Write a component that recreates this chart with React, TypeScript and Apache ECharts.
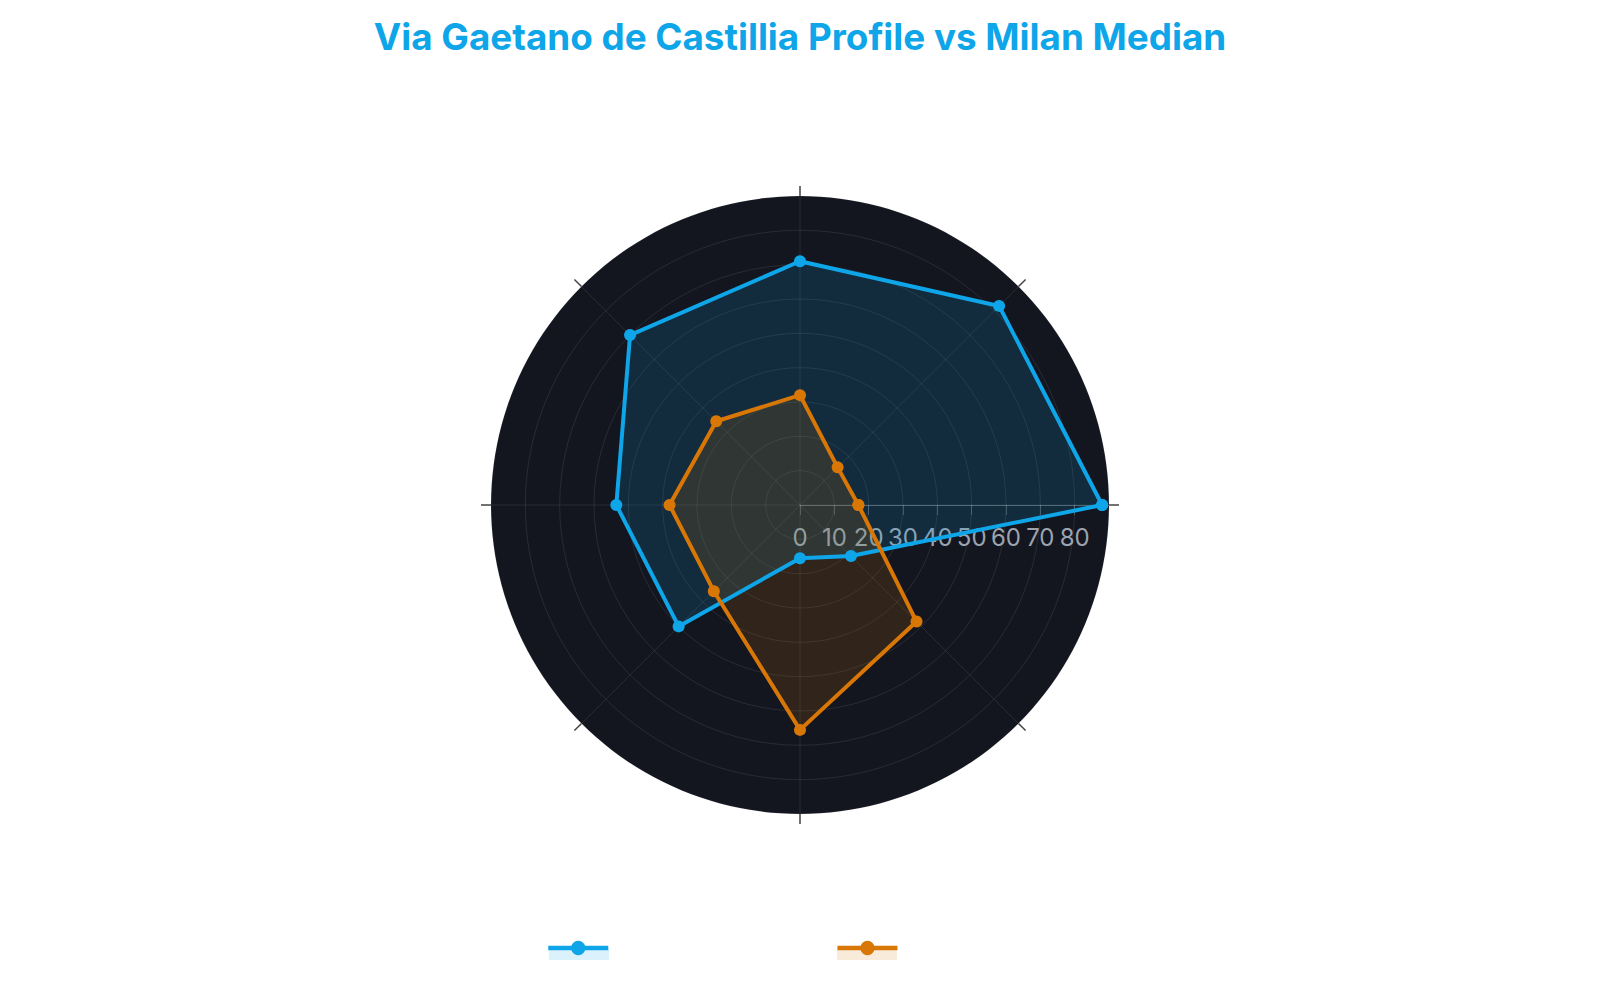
import React, { useEffect, useRef } from 'react';
import * as echarts from 'echarts';

// angle categories, clockwise from the right (startAngle 0)
const categories = ['Transit', 'Nightlife', 'Quiet', 'Affordability', 'Schools', 'Green Space', 'Dining', 'Culture'];
const seriesNames = ['Via Gaetano de Castillia', 'Milan Median'];
const seriesColors = ['#0ea5e9', '#d97706'];
const streetValues = [88, 21, 15.5, 50, 53.5, 70, 71, 82];
const medianValues = [17, 48, 65.5, 35.5, 38, 34.5, 32, 15.5];
const radiusMax = 90;
const radiusStep = 10;

const CENTER: [number, number] = [792, 497];
const RADIUS = 309;
const STEP_ANGLE = 360 / categories.length;

// each category sits on its own spoke; the loop is closed by repeating the first one at 360°
const closeLoop = (vals: number[]) => [
  ...vals.map((v, i) => [v, i * STEP_ANGLE]),
  [vals[0], 360]
];

const App: React.FC = () => {
  const chartRef = useRef<HTMLDivElement>(null);

  useEffect(() => {
    if (!chartRef.current) return;
    const chart = echarts.init(chartRef.current, null, { renderer: 'svg' });

    const makeSeries = (i: number, vals: number[]): echarts.SeriesOption => ({
      name: seriesNames[i],
      type: 'line',
      coordinateSystem: 'polar',
      clip: false,
      data: closeLoop(vals),
      symbol: 'circle',
      symbolSize: 12,
      lineStyle: { color: seriesColors[i], width: 4 },
      itemStyle: { color: seriesColors[i] },
      areaStyle: { color: seriesColors[i], opacity: 0.15 }
    });

    const option: echarts.EChartsOption = {
      animation: false,
      textStyle: { fontFamily: 'Inter' },
      title: {
        text: 'Via Gaetano de Castillia Profile vs Milan Median',
        left: 'center',
        top: 5,
        textStyle: { color: '#0ea5e9', fontSize: 36.8, fontWeight: 'bold', fontFamily: 'Inter' }
      },
      legend: {
        data: seriesNames,
        left: 533,
        bottom: 31,
        itemWidth: 60,
        itemHeight: 18,
        itemGap: 43,
        lineStyle: { width: 4.5 },
        textStyle: { color: '#ffffff', fontSize: 16 }
      },
      // dark disc behind the polar grid, light bands under the legend lines
      graphic: [
        {
          type: 'circle',
          z: -10,
          silent: true,
          shape: { cx: CENTER[0], cy: CENTER[1], r: RADIUS },
          style: { fill: '#13161f' }
        },
        {
          type: 'rect',
          z: -10,
          silent: true,
          shape: { x: 541, y: 940, width: 60, height: 12 },
          style: { fill: 'rgba(14,165,233,0.15)' }
        },
        {
          type: 'rect',
          z: -10,
          silent: true,
          shape: { x: 829, y: 940, width: 60, height: 12 },
          style: { fill: 'rgba(217,119,6,0.15)' }
        }
      ],
      polar: {
        center: CENTER,
        radius: RADIUS
      },
      angleAxis: {
        type: 'value',
        min: 0,
        max: 360,
        interval: STEP_ANGLE,
        startAngle: 0,
        axisLine: { show: false },
        axisTick: { show: true, length: 10, lineStyle: { color: '#444444', width: 1.5 } },
        axisLabel: { show: false },
        splitLine: { show: true, lineStyle: { color: 'rgba(255,255,255,0.09)' } }
      },
      radiusAxis: {
        min: 0,
        max: radiusMax,
        interval: radiusStep,
        axisLine: { show: true, lineStyle: { color: 'rgba(255,255,255,0.28)' } },
        axisTick: { show: true, length: -10, lineStyle: { color: 'rgba(255,255,255,0.22)' } },
        axisLabel: {
          color: '#9ca3af',
          fontSize: 24,
          showMaxLabel: false,
          verticalAlign: 'middle',
          margin: -32
        },
        splitLine: { show: true, lineStyle: { color: 'rgba(255,255,255,0.09)' } }
      },
      series: [makeSeries(0, streetValues), makeSeries(1, medianValues)]
    };

    chart.setOption(option);
    return () => {
      chart.dispose();
    };
  }, []);

  return <div ref={chartRef} style={{ width: '100%', height: '984px' }} />;
};

export default App;
